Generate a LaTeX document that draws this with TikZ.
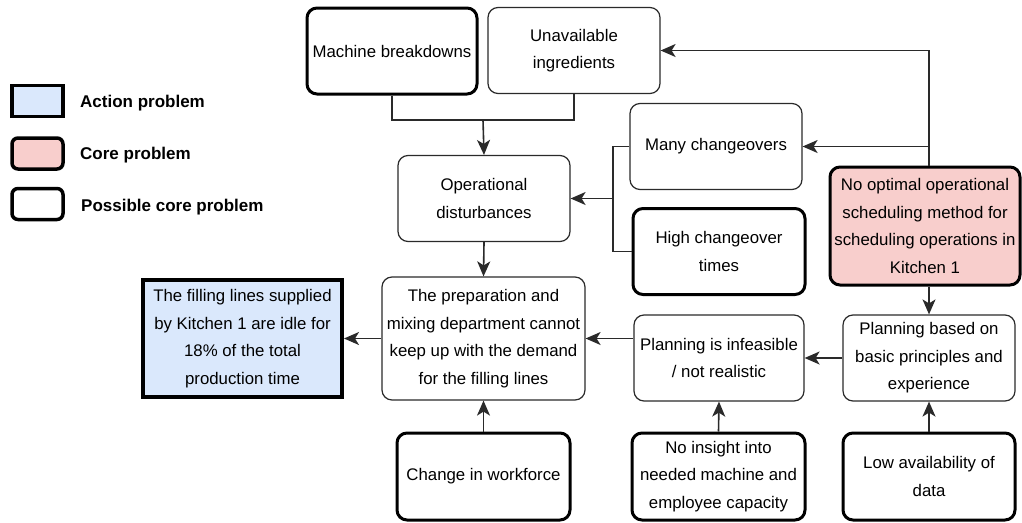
\documentclass[tikz,border=0pt]{standalone}
\usepackage{fontspec}
\setmainfont{Liberation Sans}
\usetikzlibrary{arrows.meta}
\definecolor{actfill}{HTML}{DAE8FC}
\definecolor{corefill}{HTML}{F8CECC}
\definecolor{linec}{HTML}{2A2A2A}
\begin{document}
\begin{tikzpicture}[x=1pt,y=-1pt,
  box/.style={draw=linec,line width=1.2pt,rounded corners=10pt,align=center,inner sep=0pt,
    minimum width=172pt,minimum height=86pt,font=\fontsize{16.8}{27.5}\selectfont},
  thick box/.style={box,draw=black,line width=3pt},
  act box/.style={box,draw=black,line width=4pt,rounded corners=0pt,fill=actfill},
  core box/.style={thick box,fill=corefill},
  conn/.style={draw=linec,line width=1.6pt},
  arr/.style={conn,-{Stealth[length=15pt,width=13pt,inset=4pt]}},
  leg/.style={anchor=west,inner sep=0pt,font=\fontsize{17}{20}\selectfont\bfseries},
  legbox/.style={draw=black,line width=3.5pt,minimum width=51pt,minimum height=31pt,inner sep=0pt}
]
\useasboundingbox (0,0) rectangle (1022,522);

% legend
\node[legbox,fill=actfill] (la1) at (37.5,101) {};
\node[legbox,fill=corefill,rounded corners=6pt] (lc1) at (37.5,153.5) {};
\node[legbox,rounded corners=6pt] (lp1) at (37.5,204) {};
\node[leg] (lt1) at (80,103) {Action problem};
\node[leg] (lt2) at (80,155) {Core problem};
\node[leg] (lt3) at (81,207) {Possible core problem};

% nodes
\node[thick box,minimum width=170pt] (mb) at (392,51) {Machine breakdowns};
\node[box] (ui) at (574,50.5) {Unavailable\\ingredients};
\node[box] (od) at (484,198.5) {Operational\\disturbances};
\node[box] (mc) at (716,146.5) {Many changeovers};
\node[thick box] (hc) at (719,251.5) {High changeover\\times};
\node[core box,minimum width=190pt,minimum height=118pt] (core) at (925,226) {No optimal operational\\scheduling method for\\scheduling operations in\\Kitchen 1};
\node[box] (pb) at (929,358) {Planning based on\\basic principles and\\experience};
\node[box,minimum width=170pt] (pi) at (719,358) {Planning is infeasible\\/ not realistic};
\node[box,minimum width=203pt,minimum height=123pt] (prep) at (483.5,338.5) {The preparation and\\mixing department cannot\\keep up with the demand\\for the filling lines};
\node[act box,minimum width=199pt,minimum height=117pt] (fl) at (242.5,338.5) {The filling lines supplied\\by Kitchen 1 are idle for\\18\% of the total\\production time};
\node[thick box,minimum width=173pt,minimum height=87pt] (cw) at (483.5,476.5) {Change in workforce};
\node[thick box,minimum width=173pt,minimum height=87pt] (ni) at (718.5,476.5) {No insight into\\needed machine and\\employee capacity};
\node[thick box,minimum width=172pt,minimum height=87pt] (lo) at (929,476.5) {Low availability of\\data};

% connectors
\coordinate (j1) at (483,120);
\draw[conn] (mb.south) |- (j1);
\draw[conn] (ui.south) |- (j1);
\draw[arr] (j1) -- (od.north);

\coordinate (j2) at (613,198.5);
\draw[conn] (mc.west) -| (j2);
\draw[conn] (hc.west) -| (j2);
\draw[arr] (j2) -- (od.east);

\draw[arr] (core.north -| pb) |- (ui.east);
\draw[arr] (mc.east -| pb) -- (mc.east);
\draw[arr] (core.south -| pb) -- (pb.north);
\draw[arr] (pb.west) -- (pi.east);
\draw[arr] (pi.west |- prep.east) -- (prep.east);
\draw[arr] (prep.west) -- (fl.east);
\draw[arr] (od.south) -- (prep.north);
\draw[arr] (cw.north) -- (prep.south);
\draw[arr] (ni.north) -- (pi.south);
\draw[arr] (lo.north) -- (pb.south);
\end{tikzpicture}
\end{document}
